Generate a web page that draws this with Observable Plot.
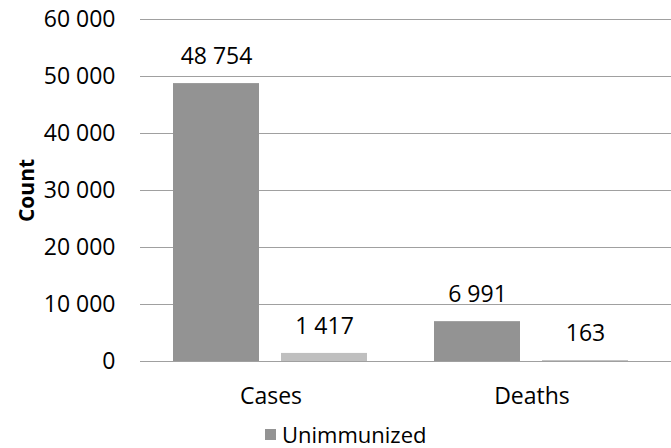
<!DOCTYPE html>
<html>
<head>
<meta charset="utf-8">
<script src="https://cdn.jsdelivr.net/npm/d3@7"></script>
<script src="https://cdn.jsdelivr.net/npm/@observablehq/plot@0.6"></script>
<style>
  html, body { margin: 0; padding: 0; background: #fff; }
  body { width: 671px; height: 448px; position: relative; overflow: hidden; font-family: "Open Sans", sans-serif; }
  #chart svg { display: block; }
  #chart svg [aria-label="y-axis label"] text { font-weight: bold; font-size: 21px; }
  .legend { position: absolute; left: 265px; top: 423px; height: 22px; display: flex; align-items: center; font-size: 22px; line-height: 22px; color: #000; }
  .legend .swatch { width: 11px; height: 11px; margin-right: 6px; }
</style>
</head>
<body>
<div id="chart"></div>
<div class="legend" id="legend"></div>
<script>
// Outcome counts by immunization status
const categories = ["Cases", "Deaths"];
const series = ["Unimmunized", "Immunized"];
const unimmunized = [48754, 6991];
const immunized = [1417, 163];
const yTicks = [0, 10000, 20000, 30000, 40000, 50000, 60000];
const colors = ["#939393", "#bfbfbf"];
const legendSeries = ["Unimmunized"];

// Numbers use a space as the thousands separator
const fmt = d3.formatLocale({decimal: ",", thousands: " ", grouping: [3], currency: ["", ""]}).format(",");

const rows = categories.flatMap((category, i) => [
  {category, series: series[0], count: unimmunized[i]},
  {category, series: series[1], count: immunized[i]}
]);

const chart = Plot.plot({
  width: 671,
  height: 415,
  marginLeft: 140,
  marginRight: 0,
  marginTop: 19,
  marginBottom: 54,
  style: {fontFamily: "'Open Sans', sans-serif", fontSize: "23px", color: "#000", background: "#fff"},
  fx: {domain: categories, paddingInner: 0, paddingOuter: 0.0172, align: 0, label: null, tickSize: 0, tickPadding: 26},
  x: {domain: series, paddingInner: 0.2, paddingOuter: 0.3, axis: null},
  y: {domain: [0, 60000], ticks: yTicks, tickFormat: fmt, tickSize: 0, tickPadding: 25,
      label: "Count", labelAnchor: "center", labelArrow: false, labelOffset: 121},
  color: {domain: series, range: colors},
  marks: [
    // gridlines repeat in each facet; the right one runs on to the edge
    Plot.ruleY(yTicks, {stroke: "#a0a0a0", strokeWidth: 1.2, insetRight: -9}),
    Plot.barY(rows, {fx: "category", x: "series", y: "count", fill: "series"}),
    Plot.text(rows, {fx: "category", x: "series", y: "count", text: d => fmt(d.count), dy: -27, fill: "#000"})
  ]
});
document.getElementById("chart").appendChild(chart);

// Legend row below the chart
const legend = document.getElementById("legend");
legendSeries.forEach(name => {
  const sw = document.createElement("span");
  sw.className = "swatch";
  sw.style.background = colors[series.indexOf(name)];
  const label = document.createElement("span");
  label.textContent = name;
  legend.appendChild(sw);
  legend.appendChild(label);
});
</script>
</body>
</html>
